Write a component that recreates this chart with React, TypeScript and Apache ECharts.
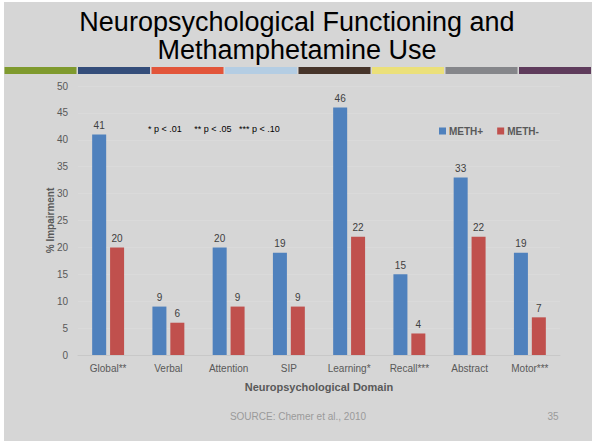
import React, { useEffect, useRef } from "react";
import * as echarts from "echarts";

const categories = ["Global**", "Verbal", "Attention", "SIP", "Learning*", "Recall***", "Abstract", "Motor***"];
const methPlus = [41, 9, 20, 19, 46, 15, 33, 19];
const methMinus = [20, 6, 9, 9, 22, 4, 22, 7];
const stripeColors = ["#7f9a2e", "#344d7a", "#e2553a", "#b4cde3", "#46342a", "#ebe07a", "#85868a", "#5f3c5c"];

const FF = "Liberation Sans";

export default function App() {
  const ref = useRef<HTMLDivElement>(null);
  useEffect(() => {
    const chart = echarts.init(ref.current!, null, { renderer: "svg" });
    const stripes = stripeColors.map((c, i) => ({
      type: "rect",
      shape: { x: 4.5 + i * 73.5, y: 67, width: 72, height: 7 },
      style: { fill: c },
      silent: true,
    }));
    chart.setOption({
      animation: false,
      backgroundColor: "#d6d6d6",
      textStyle: { fontFamily: FF },
      graphic: [
        { type: "rect", shape: { x: 0, y: 0, width: 4, height: 441 }, style: { fill: "#ffffff" } },
        { type: "rect", shape: { x: 0, y: 0, width: 592, height: 2 }, style: { fill: "#ffffff" } },
        {
          type: "text", x: 297, y: 22,
          style: { text: "Neuropsychological Functioning and", fill: "#000", fontFamily: FF, fontSize: 27, textAlign: "center", textVerticalAlign: "middle" },
        },
        {
          type: "text", x: 297, y: 50,
          style: { text: "Methamphetamine Use", fill: "#000", fontFamily: FF, fontSize: 27, textAlign: "center", textVerticalAlign: "middle" },
        },
        ...stripes,
        {
          type: "text", x: 148, y: 129,
          style: { text: "* p < .01     ** p < .05   *** p < .10", fill: "#000", fontFamily: FF, fontSize: 9, textAlign: "left", textVerticalAlign: "middle" },
        },
        {
          type: "text", x: 298, y: 416,
          style: { text: "SOURCE: Chemer et al., 2010", fill: "#9a9a9a", fontFamily: FF, fontSize: 10, textAlign: "center", textVerticalAlign: "middle" },
        },
        {
          type: "text", x: 553, y: 416,
          style: { text: "35", fill: "#9a9a9a", fontFamily: FF, fontSize: 10, textAlign: "center", textVerticalAlign: "middle" },
        },
      ],
      legend: {
        left: 434, top: 121,
        itemWidth: 7, itemHeight: 7, itemGap: 14,
        icon: "rect",
        textStyle: { color: "#595959", fontFamily: FF, fontSize: 10, fontWeight: "bold", padding: [0, 0, 0, -2] },
        data: ["METH+", "METH-"],
      },
      grid: { left: 78, right: 32, top: 86, bottom: 86 },
      xAxis: {
        type: "category",
        data: categories,
        name: "Neuropsychological Domain",
        nameLocation: "middle",
        nameGap: 26,
        nameMoveOverlap: false,
        nameTextStyle: { color: "#595959", fontFamily: FF, fontSize: 11, fontWeight: "bold" },
        axisLine: { lineStyle: { color: "#c8c8c8" } },
        axisTick: { show: false },
        axisLabel: { color: "#595959", fontFamily: FF, fontSize: 10, margin: 8 },
      },
      yAxis: {
        type: "value",
        min: 0, max: 50, interval: 5,
        name: "% Impairment",
        nameLocation: "middle",
        nameGap: 28,
        nameMoveOverlap: false,
        nameTextStyle: { color: "#595959", fontFamily: FF, fontSize: 10, fontWeight: "bold", verticalAlign: "middle" },
        axisLine: { show: false },
        axisTick: { show: false },
        axisLabel: { color: "#595959", fontFamily: FF, fontSize: 10, margin: 10 },
        splitLine: { lineStyle: { color: "#dadada" } },
      },
      series: [
        {
          name: "METH+", type: "bar", data: methPlus,
          barWidth: 14, barGap: "28%",
          itemStyle: { color: "#4f81bd" },
          label: { show: true, position: "top", color: "#404040", fontFamily: FF, fontSize: 10, distance: 4 },
        },
        {
          name: "METH-", type: "bar", data: methMinus,
          barWidth: 14,
          itemStyle: { color: "#c0504d" },
          label: { show: true, position: "top", color: "#404040", fontFamily: FF, fontSize: 10, distance: 4 },
        },
      ],
    });
    return () => chart.dispose();
  }, []);
  return <div ref={ref} style={{ position: "fixed", left: 0, top: 0, width: 592, height: 441 }} />;
}
